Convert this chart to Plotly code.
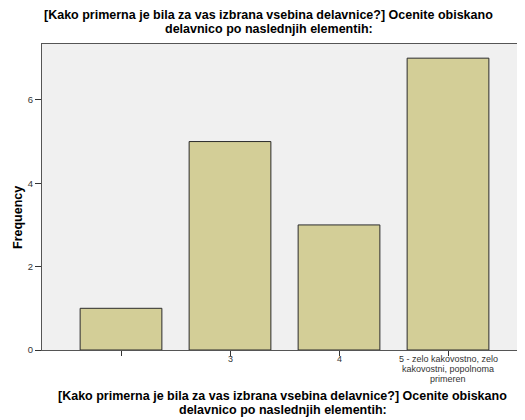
import plotly.graph_objects as go

# dane
categories = ["2", "3", "4", "5"]
tick_labels = ["", "3", "4", "5 - zelo kakovostno, zelo<br>kakovostni, popolnoma<br>primeren"]
frequency = [1, 5, 3, 7]

title_lines = ["[Kako primerna je bila za vas izbrana vsebina delavnice?] Ocenite obiskano",
               "delavnico po naslednjih elementih:"]

fig = go.Figure()
fig.add_trace(go.Bar(
    x=categories,
    y=frequency,
    width=0.75,
    marker=dict(color='#D3CE97', line=dict(color='#2b2b2b', width=1)),
    name='Frequency'
))

# stran ima 8px roba (body margin), zato vse premaknemo za 8px
OFF = 8
W, H = 525, 420 - OFF
L, T, B = 42 - OFF, 44 - OFF, 350 - OFF
plot_h = B - T
# 109 px na kategorijo, prva kategorija 79 px od levega roba
x_range = [-79 / 109, -79 / 109 + (W - L) / 109]


def py(y):
    # piksel (v referenci) -> paper y
    return (B - (y - OFF)) / plot_h


def px(x):
    return (x - OFF - L) / (W - L)


title_y = [15, 29]
xtitle_y = [396, 410]
for i, line in enumerate(title_lines):
    fig.add_annotation(text=f"<b>{line}</b>", xref='paper', yref='paper',
                       x=px(268.5), y=py(title_y[i]),
                       xanchor='center', yanchor='middle', showarrow=False,
                       font=dict(size=12.5, color='black'))
    fig.add_annotation(text=f"<b>{line}</b>", xref='paper', yref='paper',
                       x=px(282.5), y=py(xtitle_y[i]),
                       xanchor='center', yanchor='middle', showarrow=False,
                       font=dict(size=12.5, color='black'))

# oznake kategorij kot opombe (tesnejši razmik vrstic kot pri plotly)
for idx, label in enumerate(tick_labels):
    cx = (idx - x_range[0]) / (x_range[1] - x_range[0])
    for j, line in enumerate(label.split("<br>")):
        if not line:
            continue
        fig.add_annotation(text=line, xref='paper', yref='paper',
                           x=cx, y=py(359 + 10 * j),
                           xanchor='center', yanchor='middle', showarrow=False,
                           font=dict(size=9, color='#333333'))

fig.add_annotation(text="<b>Frequency</b>", xref='paper', yref='paper',
                   x=px(18), y=py(218),
                   xanchor='center', yanchor='middle', textangle=-90, showarrow=False,
                   font=dict(size=12.5, color='black'))

fig.update_layout(
    width=W,
    height=H,
    margin=dict(l=L, r=0, t=T, b=H - B, autoexpand=False),
    paper_bgcolor='white',
    plot_bgcolor='#F0F0F0',
    font=dict(family='Liberation Sans, Arial, sans-serif', color='#333333'),
    showlegend=False,
    xaxis=dict(
        type='category',
        range=x_range,
        tickmode='array',
        tickvals=categories,
        ticktext=[""] * len(categories),
        ticks='outside', ticklen=5, tickcolor='#333333',
        showline=True, linecolor='#555555', mirror=True,
        showgrid=False, automargin=False,
    ),
    yaxis=dict(
        range=[0, 7.34],
        tickvals=[0, 2, 4, 6],
        ticks='outside', ticklen=6, tickcolor='#333333',
        tickfont=dict(size=9.5, color='#333333'),
        showline=True, linecolor='#555555', mirror=True,
        showgrid=False, zeroline=False, automargin=False,
    ),
)

fig.write_html("out.html")
